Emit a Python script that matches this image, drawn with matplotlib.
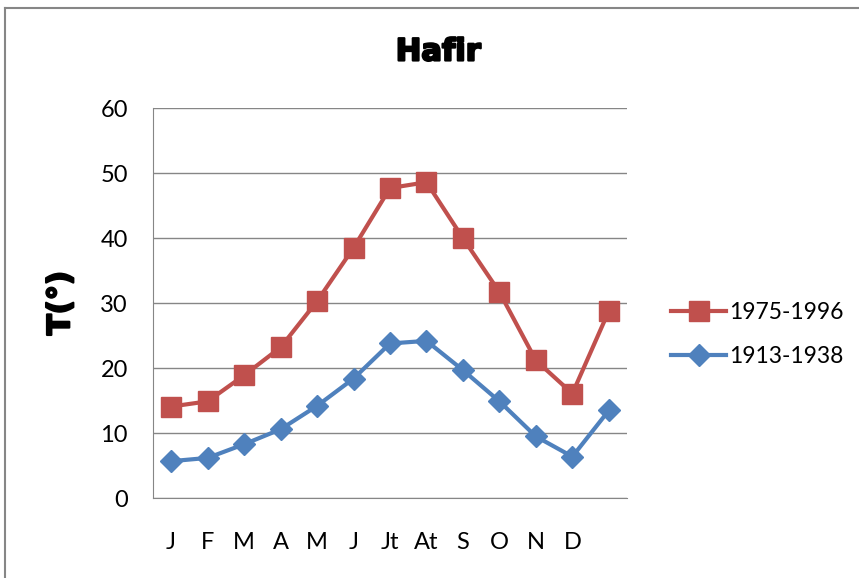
import matplotlib.pyplot as plt
import matplotlib.patheffects as pe
from matplotlib.lines import Line2D

months = ['J', 'F', 'M', 'A', 'M', 'J', 'Jt', 'At', 'S', 'O', 'N', 'D']
t_1975_1996 = [14.1, 14.9, 18.9, 23.2, 30.3, 38.5, 47.7, 48.6, 40.0, 31.7, 21.2, 16.1, 28.8]
t_1913_1938 = [5.7, 6.2, 8.3, 10.6, 14.2, 18.4, 23.8, 24.2, 19.7, 14.9, 9.5, 6.4, 13.5]

plt.rcParams['font.family'] = ['Lato', 'DejaVu Sans']

fig = plt.figure(figsize=(8.59, 5.78), dpi=100)
ax = fig.add_axes([0.178, 0.138, 0.552, 0.675])

x = [i + 0.5 for i in range(len(t_1975_1996))]
ax.plot(x, t_1975_1996, color='#C0504D', lw=3, marker='s', ms=14, label='1975-1996')
ax.plot(x, t_1913_1938, color='#4F81BD', lw=3, marker='D', ms=11, label='1913-1938')

ax.set_xlim(0, 13)
ax.set_ylim(0, 60)
ax.set_yticks(range(0, 61, 10))
ax.set_xticks([i + 0.5 for i in range(len(months))])
ax.set_xticklabels(months)
ax.tick_params(length=0, labelsize=17, pad=18)
ax.tick_params(axis='x', pad=24)
ax.yaxis.grid(True, color='#868686', lw=1)
ax.set_axisbelow(True)
for s in ['top', 'right']:
    ax.spines[s].set_visible(False)
ax.spines['left'].set_color('#868686')
ax.spines['bottom'].set_color('#868686')

# chart title is centred over the whole chart area, not the plot
heavy = [pe.withStroke(linewidth=1.6, foreground='black')]
fig.text(0.51, 0.885, 'Hafir', fontsize=22, fontweight='bold', family='DejaVu Sans',
         ha='center', va='bottom', path_effects=heavy)
ax.set_ylabel('T(°)', fontsize=22, fontweight='bold', family='DejaVu Sans',
              labelpad=18, path_effects=heavy)

ax.legend(loc='center left', bbox_to_anchor=(1.05, 0.42), frameon=False,
          fontsize=16.5, handlelength=2.4, handletextpad=0.1, labelspacing=1.0)

# figure border
fig.add_artist(Line2D([0.006, 0.006], [0, 0.986], color='#868686', lw=1.5))
fig.add_artist(Line2D([0.006, 1], [0.986, 0.986], color='#868686', lw=1.5))

fig.savefig('out.png', dpi=100)
